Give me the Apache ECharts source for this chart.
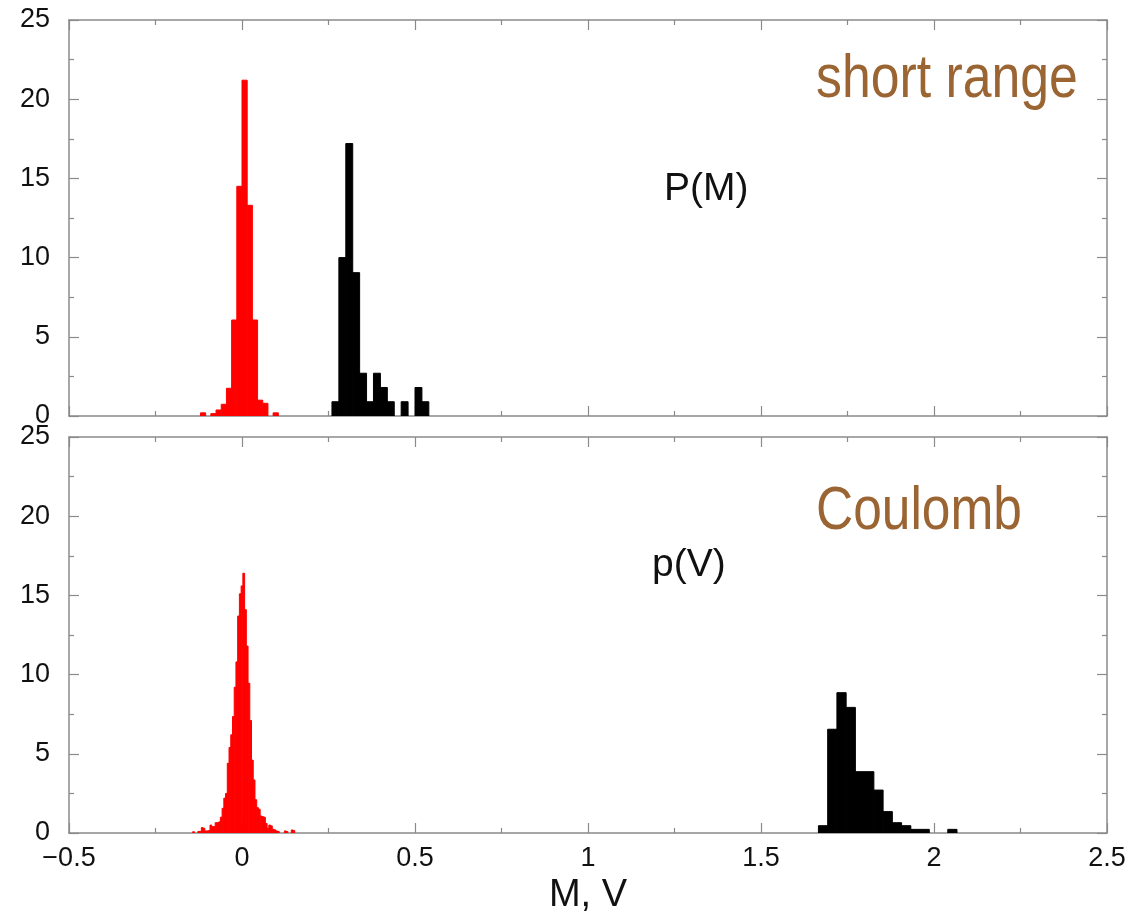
<!DOCTYPE html>
<html><head><meta charset="utf-8">
<script src="https://cdn.jsdelivr.net/npm/echarts@6/dist/echarts.min.js"></script>
<style>html,body{margin:0;padding:0;background:#fff}#c{width:1143px;height:917px}</style>
</head><body><div id="c"></div>
<script>
// ---- data ----
const xTickValues = [-0.5, 0, 0.5, 1, 1.5, 2, 2.5];
const yTickValues = [0, 5, 10, 15, 20, 25];

// top panel: P(M), short range
const topRedStart = -0.12, topRedWidth = 0.015;
const topRedHeights = [0.2, 0, 0.15, 0.38, 0.74, 1.75, 6.06, 14.5, 21.2, 13.3, 6.06, 1.0, 0.8, 0, 0.2];
const topBlackStart = 0.26, topBlackWidth = 0.02;
const topBlackHeights = [0.9, 10.0, 17.2, 9.05, 2.7, 0.9, 2.7, 1.8, 0.9, 0, 0.9, 0, 1.8, 0.9];

// bottom panel: p(V), Coulomb
const botRedStart = -0.1425, botRedWidth = 0.005;
const botRedHeights = [0.08, 0, 0, 0.1, 0.1, 0.34, 0.3, 0.13, 0.13, 0.15, 0.5, 0.4, 0.4, 0.65, 0.65, 0.7, 1.0, 1.56, 2.2, 2.5,
  4.4, 5.4, 6.2, 7.35, 9.2, 10.8, 13.7, 15.1, 15.6, 16.4, 14.1, 11.8, 9.45, 7.1, 4.6, 3.35, 2.1, 1.6, 1.5, 1.07,
  1.03, 1.0, 0.6, 0.3, 0.5, 0.45, 0.23, 0.2, 0.13, 0.1, 0, 0, 0, 0.13, 0.1, 0, 0, 0.19, 0.15];
const botBlackStart = 1.666, botBlackWidth = 0.0267;
const botBlackHeights = [0.46, 6.55, 8.86, 7.93, 3.87, 3.87, 2.71, 1.35, 0.65, 0.46, 0.23, 0.23, 0, 0, 0.23];

const labels = {topLabel: 'P(M)', topNote: 'short range', botLabel: 'p(V)', botNote: 'Coulomb', xName: 'M, V'};

// ---- build ----
function bins(start, width, heights) {
  return heights.map((h, i) => [start + i * width, start + (i + 1) * width, h]);
}
function renderItem(params, api) {
  const x0 = api.value(0), x1 = api.value(1), h = api.value(2);
  if (!h) return null;
  const p0 = api.coord([x0, h]);
  const p1 = api.coord([x1, 0]);
  const c = api.visual('color');
  return {type: 'rect', shape: {x: p0[0], y: p0[1], width: p1[0] - p0[0], height: p1[1] - p0[1]},
    style: {fill: c, stroke: c, lineWidth: 1}};
}
const AX = '#8a8a8a';
const FONT = "'Liberation Sans', Arial, Helvetica, sans-serif";
function xAx(grid, pos, showLabel) {
  return {type: 'value', gridIndex: grid, position: pos, min: xTickValues[0], max: xTickValues[xTickValues.length - 1], interval: 0.5,
    axisLine: {show: true, onZero: false, lineStyle: {color: AX, width: 1.5}},
    axisTick: {show: true, inside: true, length: 10, lineStyle: {color: AX, width: 1.2}},
    minorTick: {show: true, splitNumber: 2, length: 5, lineStyle: {color: AX, width: 1.2}},
    splitLine: {show: false},
    axisLabel: {show: showLabel, fontSize: 27, color: '#111', fontFamily: FONT, margin: 12,
      formatter: v => (v < 0 ? '\u2212' + String(-v) : String(v))},
    name: showLabel ? labels.xName : '', nameLocation: 'middle', nameGap: 44,
    nameTextStyle: {fontSize: 38, color: '#111', fontFamily: FONT}};
}
function yAx(grid, pos, showLabel) {
  return {type: 'value', gridIndex: grid, position: pos, min: yTickValues[0], max: yTickValues[yTickValues.length - 1], interval: 5,
    axisLine: {show: true, onZero: false, lineStyle: {color: AX, width: 1.5}},
    axisTick: {show: true, inside: true, length: 10, lineStyle: {color: AX, width: 1.2}},
    minorTick: {show: true, splitNumber: 2, length: 5, lineStyle: {color: AX, width: 1.2}},
    splitLine: {show: false},
    axisLabel: {show: showLabel, fontSize: 27, color: '#111', fontFamily: FONT, margin: 19}};
}
function hist(xi, yi, data, color) {
  return {type: 'custom', xAxisIndex: xi, yAxisIndex: yi, renderItem: renderItem, data: data,
    dimensions: ['x0', 'x1', 'h'], encode: {x: [0, 1], y: 2}, itemStyle: {color: color}, clip: true, z: 3};
}
const chart = echarts.init(document.getElementById('c'), null, {renderer: 'canvas'});
chart.setOption({
  animation: false,
  backgroundColor: '#fff',
  grid: [
    {left: 69, right: 36, top: 20, height: 396},
    {left: 69, right: 36, top: 437, height: 396}
  ],
  xAxis: [xAx(0, 'bottom', false), xAx(0, 'top', false), xAx(1, 'bottom', true), xAx(1, 'top', false)],
  yAxis: [yAx(0, 'left', true), yAx(0, 'right', false), yAx(1, 'left', true), yAx(1, 'right', false)],
  series: [
    hist(0, 0, bins(topRedStart, topRedWidth, topRedHeights), '#ff0000'),
    hist(0, 0, bins(topBlackStart, topBlackWidth, topBlackHeights), '#000000'),
    hist(2, 2, bins(botRedStart, botRedWidth, botRedHeights), '#ff0000'),
    hist(2, 2, bins(botBlackStart, botBlackWidth, botBlackHeights), '#000000')
  ],
  graphic: [
    {type: 'text', x: 816, y: 49, scaleX: 0.835, style: {text: labels.topNote, font: '62px ' + FONT, fill: '#9b6433'}},
    {type: 'text', x: 816, y: 481, scaleX: 0.83, style: {text: labels.botNote, font: '62px ' + FONT, fill: '#9b6433'}},
    {type: 'text', x: 664, y: 170, style: {text: labels.topLabel, font: '39px ' + FONT, fill: '#111'}},
    {type: 'text', x: 652, y: 546, style: {text: labels.botLabel, font: '39px ' + FONT, fill: '#111'}}
  ]
});
</script>
</body></html>
